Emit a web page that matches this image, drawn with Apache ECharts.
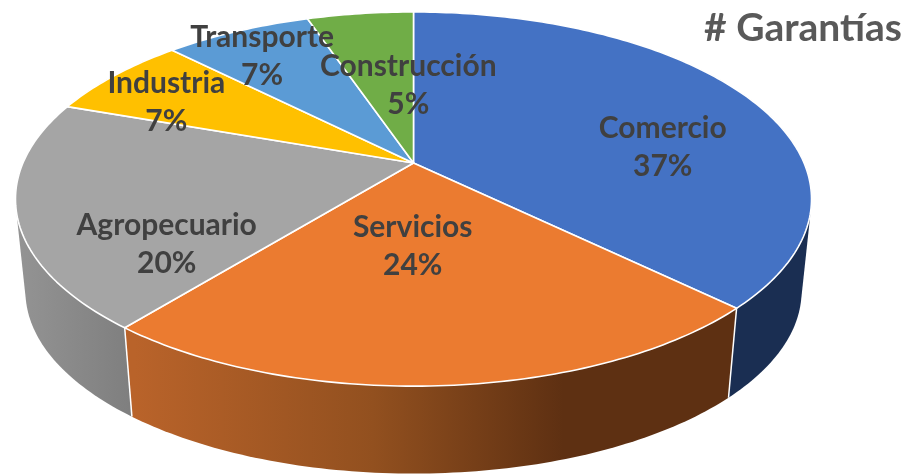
<!DOCTYPE html>
<html><head><meta charset="utf-8">
<style>html,body{margin:0;padding:0;background:#fff}#c{width:909px;height:475px}</style>
<script src="https://cdn.jsdelivr.net/npm/echarts@6/dist/echarts.min.js"></script>
</head><body><div id="c"></div>
<script>
const categories = ['Comercio','Servicios','Agropecuario','Industria','Transporte','Construcción'];
const shares = [37.3,23.52,19.58,7.2,7.2,5.2];
const topColors = ['#4472c4','#eb7b30','#a5a5a5','#ffc000','#5b9bd5','#70ad47'];
const sideStops = [
  [[0,'#1a2e52'],[1,'#1a2e52']],
  [[0,'#b9632a'],[0.4,'#92501f'],[0.72,'#5e3012'],[1,'#5e3012']],
  [[0,'#949494'],[1,'#7e7e7e']],
  [[0,'#997300'],[1,'#997300']],
  [[0,'#2e75b6'],[1,'#2e75b6']],
  [[0,'#43682b'],[1,'#43682b']]
];
const sideRanges = [[0,909],[135,730],[15,135],[0,909],[0,909],[0,909]];
const labelOffsets = [[36,26],[-17,-43],[-6,50],[-55,-4],[-36,-20],[30,21]];

// projection of the tilted disc
const CX=413.5, CY=163, D=5.19, F=2027, G=935, DROP=93, SHRINK=0.975;
const total = shares.reduce((a,b)=>a+b,0);
function project(theta,r,lower){
  const X=r*Math.sin(theta), Z=r*Math.cos(theta), w=D+Z;
  const dx=F*X/w, dy=-G*Z/w;
  return lower ? [CX+dx*SHRINK, CY+dy*SHRINK+DROP] : [CX+dx, CY+dy];
}
function startOf(i){let s=0;for(let k=0;k<i;k++)s+=shares[k];return s/total*Math.PI*2;}
function arc(a0,a1,r,lower){
  const n=Math.max(8,Math.ceil((a1-a0)*60)), pts=[];
  for(let k=0;k<=n;k++)pts.push(project(a0+(a1-a0)*k/n,r,lower));
  return pts;
}
function hull(points){
  const s=points.slice().sort((a,b)=>a[0]-b[0]||a[1]-b[1]);
  const cross=(o,a,b)=>(a[0]-o[0])*(b[1]-o[1])-(a[1]-o[1])*(b[0]-o[0]);
  const build=list=>{const h=[];for(const p of list){while(h.length>1&&cross(h[h.length-2],h[h.length-1],p)<=0)h.pop();h.push(p);}h.pop();return h;};
  return build(s).concat(build(s.slice().reverse()));
}
const opt = {
  backgroundColor:'#fff',
  animation:false,
  title:{text:'# Garantías',right:2,top:4,textStyle:{fontFamily:'Lato',fontWeight:'bold',fontSize:39,color:'#595959'}},
  series:[
    {type:'custom',coordinateSystem:'none',z:1,silent:true,data:shares,
     renderItem(p,api){
       const i=p.dataIndex,a0=startOf(i),a1=a0+api.value(0)/total*Math.PI*2;
       const rg=sideRanges[i];
       const fill={type:'linear',x:rg[0],y:0,x2:rg[1],y2:0,global:true,
               colorStops:sideStops[i].map(s=>({offset:s[0],color:s[1]}))};
       return {type:'polygon',shape:{points:hull(arc(a0,a1,1,false).concat(arc(a0,a1,1,true)))},style:{fill:fill}};
     }},
    {type:'custom',coordinateSystem:'none',z:2,silent:true,data:shares,
     renderItem(p,api){
       const i=p.dataIndex,a0=startOf(i);
       const e0=project(a0,1,false),e1=project(a0,1,true);
       return {type:'line',shape:{x1:e0[0],y1:e0[1],x2:e1[0],y2:e1[1]},
               style:{stroke:(i===1||i===2)?'#fff':'rgba(255,255,255,0)',lineWidth:1.5}};
     }},
    {type:'custom',coordinateSystem:'none',z:3,silent:true,data:shares,
     renderItem(p,api){
       const i=p.dataIndex,a0=startOf(i),a1=a0+api.value(0)/total*Math.PI*2;
       const pts=[[CX,CY]].concat(arc(a0,a1,1,false));
       return {type:'polygon',shape:{points:pts},style:{fill:topColors[i],stroke:'#fff',lineWidth:1.6,lineJoin:'round'}};
     }},
    {type:'custom',coordinateSystem:'none',z:4,silent:true,data:shares,
     renderItem(p,api){
       const i=p.dataIndex,v=api.value(0),a0=startOf(i),mid=a0+v/total*Math.PI;
       const q=project(mid,0.62,false),o=labelOffsets[i];
       return {type:'text',x:q[0]+o[0],y:q[1]+o[1],style:{
         text:categories[i]+'\n'+Math.round(v/total*100)+'%',
         align:'center',verticalAlign:'middle',
         fontFamily:'Lato',fontWeight:'bold',fontSize:30,lineHeight:38,fill:'#404040'}};
     }}
  ]
};
const chart=echarts.init(document.getElementById('c'),null,{renderer:'canvas'});
chart.setOption(opt);
</script></body></html>
